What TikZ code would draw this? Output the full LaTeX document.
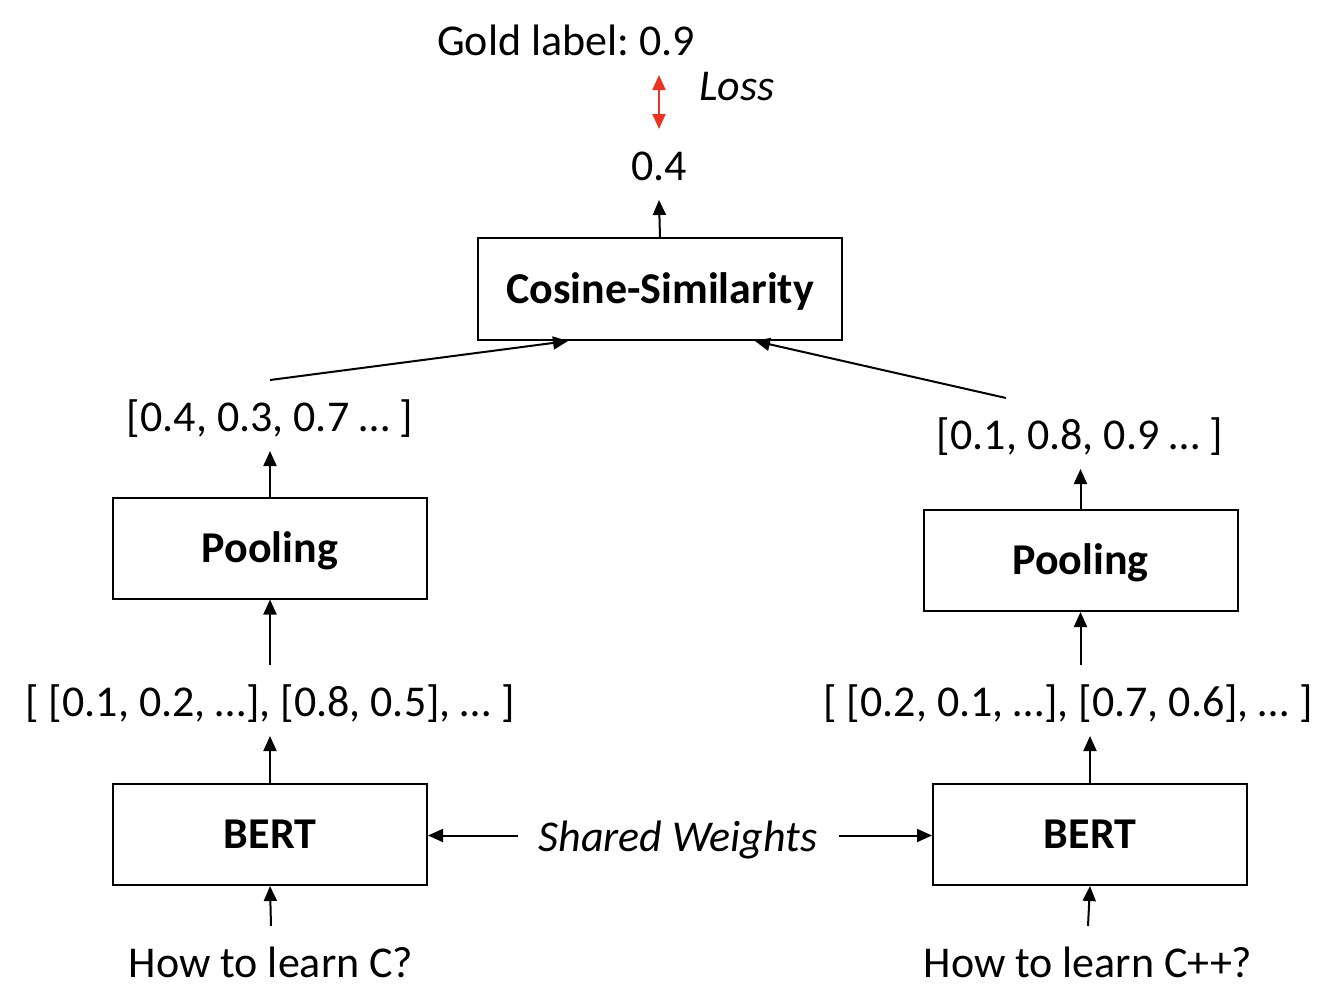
\documentclass[tikz,border=0pt]{standalone}
\usepackage{fontspec}
\setmainfont{Carlito}
\frenchspacing
\usetikzlibrary{arrows.meta}
\definecolor{lossred}{RGB}{234,51,35}
\begin{document}
\begin{tikzpicture}[x=0.5pt,y=-0.5pt,font=\fontsize{22}{26}\selectfont,line width=1pt,
  box/.style={draw,minimum width=157pt,minimum height=50.5pt,inner sep=0pt,text height=19pt,text depth=5pt,font=\fontsize{22}{26}\selectfont\bfseries},
  txt/.style={anchor=base,inner xsep=2pt,inner ysep=0pt,text height=25pt,text depth=9.5pt},
  >={Triangle[length=7.5pt,width=6.5pt]}]
\useasboundingbox (0,0) rectangle (1340,1002);
\node[txt] (gold) at (566,55) {Gold label: 0.9};
\node[txt,font=\fontsize{22}{26}\selectfont\itshape] (loss) at (737,100) {Loss};
\node[txt] (score) at (659,180) {0.4};
\node[box,minimum width=182pt,minimum height=51pt] (cosine) at (660,289) {Cosine-Similarity};
\node[txt] (vecA) at (270,431) {[0.4, 0.3, 0.7 … ]};
\node[txt] (vecB) at (1080,449) {[0.1, 0.8, 0.9 … ]};
\node[box] (poolA) at (270,548) {Pooling};
\node[box] (poolB) at (1080.5,560.5) {Pooling};
\node[txt] (tokA) at (270,716) {[ [0.1, 0.2, …], [0.8, 0.5], … ]};
\node[txt] (tokB) at (1068,716) {[ [0.2, 0.1, …], [0.7, 0.6], … ]};
\node[box] (bertA) at (270,834.5) {BERT};
\node[box] (bertB) at (1090,834.5) {BERT};
\node[txt,inner xsep=10pt,font=\fontsize{22}{26}\selectfont\itshape] (shared) at (678,851) {Shared Weights};
\node[txt] (sentA) at (271,977) {How to learn C?};
\node[txt] (sentB) at (1088,977) {How to learn C++?};
\draw[<->,lossred] (score.north) -- (score.north |- gold.south);
\draw[->] (cosine.north) -- (score.south);
\draw[->] (vecA.north) -- ([xshift=-46pt]cosine.south);
\draw[->] ([xshift=-37pt]vecB.north) -- ([xshift=47.5pt]cosine.south);
\draw[->] (poolA.north) -- (vecA.south);
\draw[->] (poolB.north) -- (vecB.south -| poolB.north);
\draw[->] (tokA.north) -- (poolA.south);
\draw[->] (tokB.north -| poolB.south) -- (poolB.south);
\draw[->] (bertA.north) -- (tokA.south);
\draw[->] (bertB.north) -- (bertB.north |- tokB.south);
\draw[->] (sentA.north) -- (bertA.south);
\draw[->] (sentB.north) -- (bertB.south);
\draw[->] (shared.west) -- (shared.west -| bertA.east);
\draw[->] (shared.east) -- (shared.east -| bertB.west);
\end{tikzpicture}
\end{document}
